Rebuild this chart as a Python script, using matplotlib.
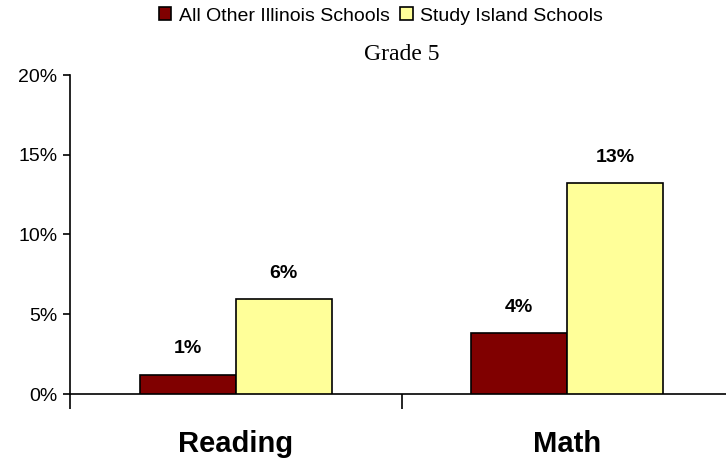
import matplotlib.pyplot as plt
from matplotlib.ticker import FixedLocator, PercentFormatter

plt.rcParams['font.family'] = ['Liberation Sans', 'DejaVu Sans']

subjects = ['Reading', 'Math']
other_schools = [1.2, 3.8]
study_island = [5.95, 13.2]
series_names = ['All Other Illinois Schools', 'Study Island Schools']
colors = ['#800000', '#FFFF99']

W, H = 726, 461
fig = plt.figure(figsize=(W / 100, H / 100), dpi=100)
# axes box in pixels: x 70..733, y 75..394 (from top)
ax = fig.add_axes([70 / W, (H - 394) / H, 663 / W, 319 / H])

x = [0, 1]
bw = 0.29
b1 = ax.bar([i - bw / 2 for i in x], other_schools, bw, color=colors[0],
            edgecolor='black', linewidth=1.2, label=series_names[0], zorder=3)
b2 = ax.bar([i + bw / 2 for i in x], study_island, bw, color=colors[1],
            edgecolor='black', linewidth=1.2, label=series_names[1], zorder=3)

for bars, vals in ((b1, other_schools), (b2, study_island)):
    for r, v in zip(bars, vals):
        ax.annotate(f'{v:.0f}%', (r.get_x() + r.get_width() / 2, v),
                    xytext=(0, 26), textcoords='offset pixels',
                    ha='center', va='center', fontsize=14, fontweight='bold')

ax.set_xlim(-0.5, 1.5)
ax.set_ylim(0, 20)
ax.yaxis.set_major_locator(FixedLocator([0, 5, 10, 15, 20]))
ax.yaxis.set_major_formatter(PercentFormatter(decimals=0))
ax.tick_params(axis='y', direction='out', length=5, width=1.2,
               labelsize=14, pad=4)

ax.set_xticks(x)
ax.set_xticklabels(subjects, fontsize=21, fontweight='bold')
ax.tick_params(axis='x', length=0, pad=26)
ax.xaxis.set_minor_locator(FixedLocator([-0.5, 0.5, 1.5]))
ax.tick_params(axis='x', which='minor', direction='out', length=11, width=1.2)

for s in ('top', 'right'):
    ax.spines[s].set_visible(False)
ax.spines['left'].set_linewidth(1.2)
ax.spines['bottom'].set_linewidth(1.2)

ax.set_title('Grade 5', fontsize=17, family='Liberation Serif', pad=11)

fig.legend(handles=[b1, b2], labels=series_names, loc='center',
           bbox_to_anchor=(381 / W, 1 - 16 / H), ncol=2, frameon=False,
           fontsize=14, handlelength=0.65, handleheight=0.65,
           handletextpad=0.4, columnspacing=0.5, borderpad=0)

fig.savefig('out.png', dpi=100)
